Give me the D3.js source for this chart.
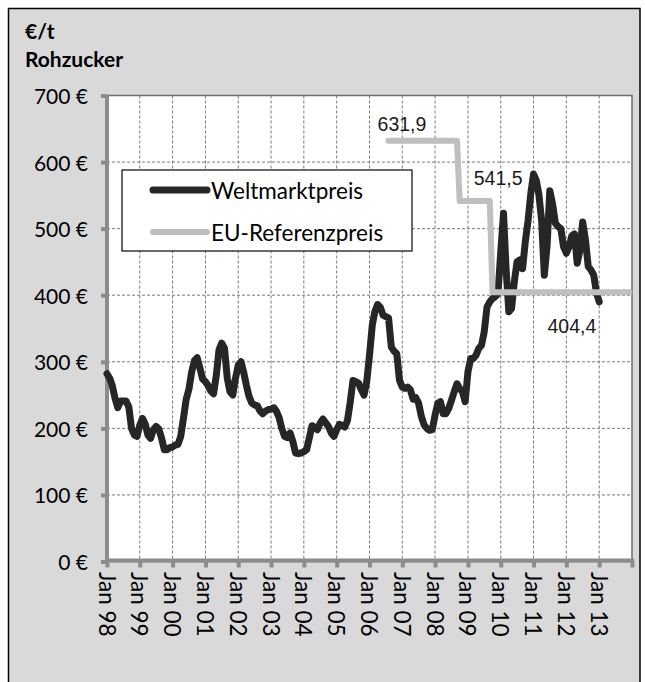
<!DOCTYPE html>
<html><head><meta charset="utf-8">
<script src="https://cdn.jsdelivr.net/npm/d3@7"></script>
<style>html,body{margin:0;padding:0;background:#fff;}svg{display:block;}</style>
</head><body>
<script>
// ---- data ----
const yearLabels = ["Jan 98","Jan 99","Jan 00","Jan 01","Jan 02","Jan 03","Jan 04","Jan 05","Jan 06","Jan 07","Jan 08","Jan 09","Jan 10","Jan 11","Jan 12","Jan 13"];
const yTicks = [0,100,200,300,400,500,600,700];
const weltStart = [1998, 0]; // monthly series starting Jan 1998
const weltmarktpreis = [
 282,275,264,245,231,241,241,241,232,200,190,188,
 205,215,207,190,185,198,203,199,185,168,168,171,
 172,175,176,188,215,244,259,285,302,306,290,274,
 270,264,256,252,279,318,328,320,275,255,250,275,
 295,300,285,265,248,238,235,234,226,222,226,228,
 229,231,226,216,200,188,186,193,180,163,162,163,
 165,168,185,204,202,198,208,214,208,203,193,188,
 198,206,204,202,212,240,272,270,268,258,250,270,
 310,355,375,386,382,370,368,366,322,316,312,272,
 262,260,262,258,244,246,238,218,205,200,197,198,
 220,238,240,222,222,230,242,255,267,260,255,240,
 285,305,305,310,320,325,345,382,390,395,398,402,
 465,523,440,375,380,420,450,453,440,480,512,552,
 582,572,552,512,430,475,557,537,508,503,500,473,
 463,473,489,492,448,468,510,483,443,438,430,404,
 390
];
const euDates = ["2006-08","2008-09","2008-10","2009-09","2009-10","2013-12"];
const euValues = [631.9,631.9,541.5,541.5,404.4,404.4];
const dataLabels = ["631,9","541,5","404,4"];
const legendNames = ["Weltmarktpreis","EU-Referenzpreis"];

// ---- layout ----
const W=645,H=682;
const L=107,R=632,T=95.5,B=561.5;
const svg=d3.select("body").append("svg").attr("width",W).attr("height",H);
svg.append("rect").attr("x",8.5).attr("y",8.5).attr("width",631.5).attr("height",720)
  .attr("fill","#d9d9d9").attr("stroke","#000").attr("stroke-width",1.5);

const x=d3.scaleTime().domain([new Date(1998,0,1),new Date(2014,0,1)]).range([L,R]);
const y=d3.scaleLinear().domain([0,700]).range([B,T]);

svg.append("rect").attr("x",L).attr("y",T).attr("width",R-L).attr("height",B-T)
  .attr("fill","#fff").attr("stroke","#6e6e6e").attr("stroke-width",1.5);

// gridlines
const yearDates=d3.range(1998,2015).map(yr=>new Date(yr,0,1));
const grid=svg.append("g").attr("stroke","#7a7a7a").attr("stroke-width",1).attr("stroke-dasharray","3,2");
yTicks.filter(v=>v>0&&v<700).forEach(v=>grid.append("line").attr("x1",L).attr("x2",R).attr("y1",y(v)).attr("y2",y(v)));
yearDates.slice(1,-1).forEach(d=>grid.append("line").attr("x1",x(d)).attr("x2",x(d)).attr("y1",T).attr("y2",B));

// axes
const yAxis=d3.axisLeft(y).tickValues(yTicks).tickSize(6).tickFormat("");
const gy=svg.append("g").attr("transform",`translate(${L},0)`).call(yAxis);
gy.select(".domain").attr("stroke","#8c8c8c").attr("stroke-width",4).attr("d",`M0,${B+2}V${T-1}`);
gy.selectAll(".tick line").attr("stroke","#8c8c8c").attr("stroke-width",4);
const fontMain="Lato, 'Open Sans', sans-serif";
yTicks.forEach(v=>{
  svg.append("text").attr("x",88).attr("y",y(v)).attr("text-anchor","end")
   .attr("dominant-baseline","central").attr("font-family",fontMain).attr("font-size",21)
   .attr("fill","#000").text(v+" €");
});
const xAxis=d3.axisBottom(x).tickValues(yearDates).tickSize(7).tickFormat("");
const gx=svg.append("g").attr("transform",`translate(0,${B-1})`).call(xAxis);
gx.select(".domain").attr("stroke","#8c8c8c").attr("stroke-width",4).attr("d",`M${L-2},0H${R+2}`);
gx.selectAll(".tick line").attr("stroke","#8c8c8c").attr("stroke-width",4);
yearLabels.forEach((lab,i)=>{
  const xx=x(yearDates[i]);
  svg.append("text").attr("transform",`translate(${xx},572) rotate(90)`)
   .attr("text-anchor","start").attr("dominant-baseline","central")
   .attr("font-family",fontMain).attr("font-size",22.5).attr("fill","#000").text(lab);
});

// series
const weltData=weltmarktpreis.map((v,i)=>({d:new Date(weltStart[0],weltStart[1]+i,1),v}));
const line=d3.line().x(p=>x(p.d)).y(p=>y(p.v));
svg.append("path").datum(weltData).attr("d",line).attr("fill","none")
  .attr("stroke","#262626").attr("stroke-width",7).attr("stroke-linejoin","round").attr("stroke-linecap","round");
const parseM=d3.timeParse("%Y-%m");
const euData=euDates.map((s,i)=>({d:parseM(s),v:euValues[i]}));
svg.append("path").datum(euData).attr("d",line).attr("fill","none")
  .attr("stroke","#bfbfbf").attr("stroke-width",6).attr("stroke-linejoin","round").attr("stroke-linecap","round");

// data labels (offsets relative to the step points)
const labPos=[[euData[0],-11,-17],[euData[2],14,-23],[euData[4],55,34]];
labPos.forEach((p,i)=>{
  svg.append("text").attr("x",x(p[0].d)+p[1]).attr("y",y(p[0].v)+p[2])
   .attr("font-family","'Liberation Sans', Arial, sans-serif").attr("font-size",19.5)
   .attr("dominant-baseline","central").attr("fill","#1a1a1a").text(dataLabels[i]);
});

// title
svg.append("text").attr("x",25).attr("y",30).attr("dominant-baseline","central")
  .attr("font-family",fontMain).attr("font-weight","bold").attr("font-size",21).text("€/t");
svg.append("text").attr("x",25).attr("y",58).attr("dominant-baseline","central")
  .attr("font-family",fontMain).attr("font-weight","bold").attr("font-size",21).text("Rohzucker");

// legend
const lg=svg.append("g");
lg.append("rect").attr("x",122).attr("y",170).attr("width",290).attr("height",81)
  .attr("fill","#fff").attr("stroke","#1a1a1a").attr("stroke-width",1.3);
const legCol=["#262626","#bfbfbf"],legW=[7,6];
legendNames.forEach((n,i)=>{
  const yy=190+i*42;
  lg.append("line").attr("x1",153).attr("x2",207).attr("y1",yy).attr("y2",yy)
   .attr("stroke",legCol[i]).attr("stroke-width",legW[i]).attr("stroke-linecap","round");
  lg.append("text").attr("x",211).attr("y",yy).attr("dominant-baseline","central")
   .attr("font-family",fontMain).attr("font-size",22.5).attr("fill","#000").text(n);
});
</script>
</body></html>
